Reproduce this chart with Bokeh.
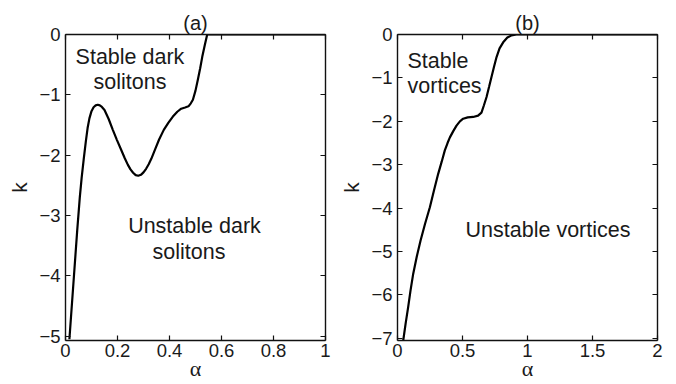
from bokeh.plotting import figure
from bokeh.layouts import row
from bokeh.models import LinearAxis, Range1d, FixedTicker, Label, CustomLabelingPolicy
from bokeh.embed import file_html
from bokeh.resources import INLINE

# ---- panel (a): dark solitons ----
alpha_a = [0.015, 0.03, 0.045, 0.055, 0.062, 0.07, 0.078, 0.085, 0.092, 0.1,
           0.108, 0.116, 0.124, 0.132, 0.14, 0.15, 0.166, 0.182, 0.198, 0.214,
           0.228, 0.24, 0.25, 0.26, 0.27, 0.28, 0.29, 0.3, 0.31, 0.32,
           0.33, 0.345, 0.36, 0.378, 0.396, 0.413, 0.43, 0.445, 0.46, 0.473,
           0.482, 0.49, 0.5, 0.509, 0.518, 0.526, 0.536, 0.545, 0.6, 0.7,
           0.8, 0.9, 1.0]
k_a = [-5.05, -4.15, -3.25, -2.7, -2.38, -2.07, -1.78, -1.55, -1.39, -1.27,
       -1.205, -1.175, -1.165, -1.175, -1.2, -1.25, -1.4, -1.58, -1.75, -1.91,
       -2.05, -2.16, -2.235, -2.29, -2.33, -2.34, -2.325, -2.285, -2.225, -2.15,
       -2.06, -1.9, -1.74, -1.58, -1.46, -1.36, -1.28, -1.23, -1.21, -1.19,
       -1.14, -1.08, -0.93, -0.75, -0.56, -0.37, -0.17, 0.0, 0.0, 0.0,
       0.0, 0.0, 0.0]
xticks_a = [0, 0.2, 0.4, 0.6, 0.8, 1]
xlabels_a = ["0", "0.2", "0.4", "0.6", "0.8", "1"]
yticks_a = [-5, -4, -3, -2, -1, 0]
ylabels_a = ["\u22125", "\u22124", "\u22123", "\u22122", "\u22121", "0"]

# ---- panel (b): vortices ----
alpha_b = [0.044, 0.063, 0.082, 0.10, 0.121, 0.148, 0.177, 0.212, 0.249, 0.28,
           0.313, 0.34, 0.364, 0.385, 0.403, 0.43, 0.454, 0.48, 0.505, 0.54,
           0.582, 0.62, 0.646, 0.665, 0.685, 0.705, 0.723, 0.742, 0.762, 0.785,
           0.813, 0.845, 0.877, 0.915, 1.2, 1.6, 2.0]
k_b = [-7.05, -6.65, -6.28, -5.9, -5.51, -5.12, -4.75, -4.36, -3.98, -3.6,
       -3.21, -2.93, -2.67, -2.5, -2.37, -2.22, -2.1, -2.0, -1.94, -1.91,
       -1.9, -1.87, -1.8, -1.63, -1.44, -1.2, -0.98, -0.75, -0.52, -0.32,
       -0.18, -0.07, -0.02, 0.0, 0.0, 0.0, 0.0]
xticks_b = [0, 0.5, 1, 1.5, 2]
xlabels_b = ["0", "0.5", "1", "1.5", "2"]
yticks_b = [-7, -6, -5, -4, -3, -2, -1, 0]
ylabels_b = ["\u22127", "\u22126", "\u22125", "\u22124", "\u22123", "\u22122", "\u22121", "0"]

SANS = "Liberation Sans"
TXT = "#1a1a1a"

HIDE_ALL = CustomLabelingPolicy(code="""
for (const i of Array.from(indices)) { indices.unset(i) }
return indices
""")


def style_axis(ax, ticks, labels, show_labels=True):
    ax.ticker = FixedTicker(ticks=ticks)
    ax.major_tick_in = 5
    ax.major_tick_out = 0
    ax.minor_tick_line_color = None
    ax.axis_line_color = "#111111"
    ax.axis_line_width = 1.4
    ax.major_tick_line_color = "#111111"
    ax.major_tick_line_width = 1.2
    ax.major_label_text_font = SANS
    ax.major_label_text_color = TXT
    if show_labels:
        ax.major_label_overrides = {t: l for t, l in zip(ticks, labels)}
        ax.major_label_text_font_size = "18.5px"
        ax.major_label_standoff = 5
    else:
        ax.major_label_policy = HIDE_ALL
        ax.major_label_text_font_size = "0px"
        ax.major_label_standoff = 0


def make_panel(title, xs, ys, xr, yr, xt, xl, yt, yl, bl, br):
    p = figure(frame_width=260, frame_height=306, output_backend="svg",
               toolbar_location=None, x_range=Range1d(*xr), y_range=Range1d(*yr),
               min_border_left=bl, min_border_right=br, min_border_top=34,
               min_border_bottom=44)
    p.grid.visible = False
    p.outline_line_color = None
    p.background_fill_color = "white"
    p.border_fill_color = "white"
    p.title.text = title
    p.title.align = "center"
    p.title.text_font = SANS
    p.title.text_font_size = "20px"
    p.title.text_font_style = "normal"
    p.title.text_color = TXT
    p.title.standoff = 2
    style_axis(p.xaxis[0], xt, xl)
    style_axis(p.yaxis[0], yt, yl)
    p.xaxis.major_label_standoff = 3
    p.xaxis.axis_label = "\u03b1"
    p.xaxis.axis_label_text_font = "Liberation Serif"
    p.xaxis.axis_label_text_font_size = "22px"
    p.xaxis.axis_label_text_font_style = "normal"
    p.xaxis.axis_label_text_color = TXT
    p.xaxis.axis_label_standoff = -4
    p.yaxis.axis_label = "k"
    p.yaxis.axis_label_text_font = SANS
    p.yaxis.axis_label_text_font_size = "21px"
    p.yaxis.axis_label_text_font_style = "normal"
    p.yaxis.axis_label_text_color = TXT
    p.yaxis.axis_label_standoff = 5
    top = LinearAxis()
    style_axis(top, xt, xl, show_labels=False)
    p.add_layout(top, "above")
    right = LinearAxis()
    style_axis(right, yt, yl, show_labels=False)
    p.add_layout(right, "right")
    p.line(xs, ys, line_color="black", line_width=2.2)
    return p


pa = make_panel("(a)", alpha_a, k_a, (0, 1), (-5.07, 0),
                xticks_a, xlabels_a, yticks_a, ylabels_a, 65, 11)
pb = make_panel("(b)", alpha_b, k_b, (0, 2), (-7.05, 0),
                xticks_b, xlabels_b, yticks_b, ylabels_b, 61, 19)


def note(p, x, y, text, align="center"):
    p.add_layout(Label(x=x, y=y, text=text, text_align=align,
                       text_baseline="alphabetic", text_font=SANS,
                       text_font_size="21.5px", text_color=TXT))


note(pa, 0.248, -0.375, "Stable dark")
note(pa, 0.248, -0.79, "solitons")
note(pa, 0.496, -3.18, "Unstable dark")
note(pa, 0.475, -3.60, "solitons")
note(pb, 0.077, -0.60, "Stable", "left")
note(pb, 0.077, -1.175, "vortices", "left")
note(pb, 1.158, -4.50, "Unstable vortices")

layout = row(pa, pb)
open("out.html", "w").write(file_html(layout, INLINE))
